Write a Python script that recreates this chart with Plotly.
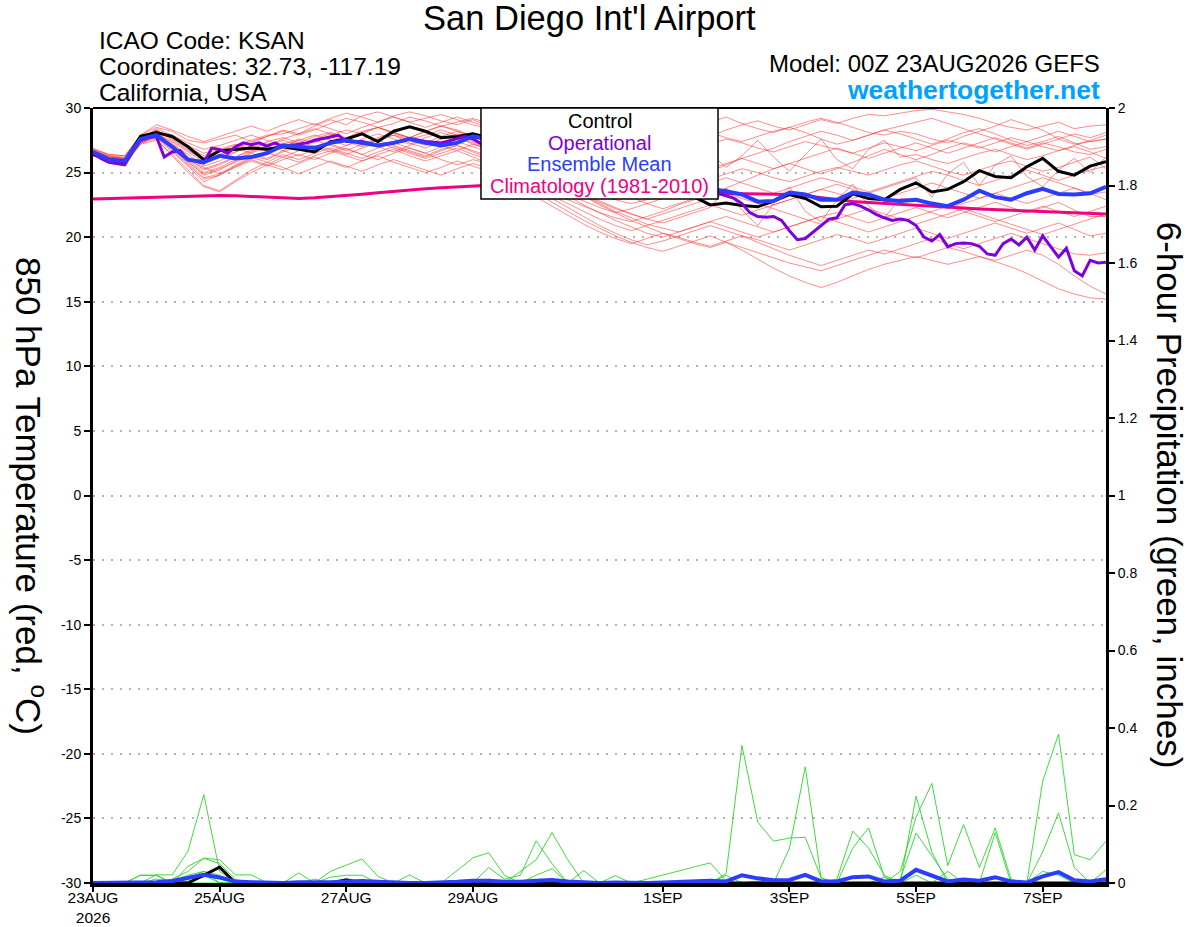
import pandas as pd
import plotly.graph_objects as go

START = "2026-08-23 00:00"

# ---- 850 hPa temperature (deg C), 6-hourly from 23AUG 00Z to 8SEP 00Z ----
control_t = [
    26.4, 26.0, 25.85, 27.8, 28.1, 27.8, 27.0, 26.0, 26.7, 26.8, 26.9, 26.8, 27.0,
    26.8, 26.6, 27.4, 27.6, 28.0, 27.4, 28.2, 28.55, 28.2, 27.7, 27.8, 28.0, 27.7,
    27.4, 27.0, 26.6, 26.2, 25.8, 25.4, 25.0, 24.6, 24.2, 23.9, 23.6, 23.4, 23.1,
    22.5, 22.65, 22.45, 22.35, 22.8, 23.3, 23.0, 22.35, 22.4, 23.35, 23.0, 22.9, 23.7,
    24.2, 23.5, 23.7, 24.3, 25.15, 24.7, 24.6, 25.45, 26.1, 25.1, 24.8, 25.5, 25.85,
]
mean_t = [
    26.6, 26.0, 25.9, 27.6, 27.9, 27.0, 26.0, 25.8, 26.3, 26.1, 26.2, 26.5, 27.1,
    27.0, 26.9, 27.3, 27.5, 27.3, 27.1, 27.3, 27.6, 27.3, 27.1, 27.3, 27.8, 27.6,
    27.4, 27.1, 26.8, 26.5, 26.2, 25.9, 25.6, 25.3, 25.0, 24.7, 24.4, 24.1, 23.9,
    23.75, 23.55, 23.3, 22.75, 22.8, 23.45, 23.3, 22.9, 22.9, 23.45, 23.3, 22.9, 22.8,
    22.9, 22.6, 22.4, 22.9, 23.6, 23.1, 22.9, 23.4, 23.75, 23.35, 23.3, 23.4, 23.9,
]
clim_t = [
    22.95, 22.98, 23.02, 23.06, 23.1, 23.14, 23.18, 23.2, 23.22, 23.2, 23.15, 23.08, 23.02,
    23.0, 23.05, 23.13, 23.22, 23.32, 23.43, 23.55, 23.65, 23.74, 23.82, 23.9, 23.97, 24.02,
    24.06, 24.08, 24.08, 24.06, 24.02, 23.97, 23.9, 23.83, 23.76, 23.68, 23.6, 23.53, 23.47,
    23.42, 23.39, 23.36, 23.34, 23.32, 23.3, 23.2, 23.05, 22.9, 22.77, 22.68, 22.6, 22.52,
    22.44, 22.38, 22.31, 22.25, 22.18, 22.13, 22.08, 22.04, 22.0, 21.96, 21.92, 21.86, 21.8,
]
# operational run is 3-hourly
oper_t = [
    26.5, 26.1, 25.8, 25.7, 25.6, 26.6, 27.5, 27.7,
    27.8, 26.2, 26.6, 26.7, 26.0, 25.9, 25.75, 26.9,
    26.8, 26.5, 27.0, 27.3, 27.15, 27.3, 27.05, 27.3,
    27.0, 27.1, 27.2, 27.3, 27.5, 27.6, 27.75, 27.9,
    27.4, 27.4, 27.4, 27.25, 27.1, 27.2, 27.3, 27.45,
    27.65, 27.5, 27.4, 27.35, 27.3, 27.45, 27.65, 27.8,
    27.6, 27.25, 27.1, 26.9, 26.7, 26.5, 26.3, 26.1,
    25.9, 25.7, 25.5, 25.3, 25.1, 24.9, 24.8, 24.7,
    24.6, 24.5, 24.4, 24.3, 24.2, 24.1, 24.0, 23.95,
    23.9, 23.85, 23.8, 23.75, 23.7, 23.7, 23.65, 23.4,
    23.2, 23.0, 22.6, 21.9, 21.6, 21.55, 21.6, 21.3,
    20.5, 19.8, 19.9, 20.4, 20.9, 21.4, 21.5, 22.5,
    22.6, 22.4, 22.1, 21.75, 21.5, 21.3, 21.4, 21.3,
    20.9, 20.0, 19.7, 20.2, 19.25, 19.5, 19.55, 19.5,
    19.3, 18.7, 18.6, 19.5, 19.85, 19.4, 20.0, 19.0,
    20.1, 19.3, 18.45, 19.15, 17.4, 17.0, 18.2, 18.0,
    18.05,
]

# ensemble members (temperature)
mem01 = [26.8, 26.3, 26.2, 27.9, 28.5, 28.2, 27.5, 27.3, 27.6, 27.9, 27.4, 27.8, 28.3,
         28.0, 28.6, 29.1, 28.7, 29.4, 29.7, 29.3, 28.9, 29.2, 29.5, 29.1, 28.7, 28.4,
         28.9, 29.2, 28.6, 28.1, 28.5, 28.9, 28.7, 28.3, 28.0, 28.4, 28.8, 28.5, 28.2,
         27.8, 28.3, 28.7, 29.0, 28.6, 28.3, 28.7, 29.1, 28.8, 29.2, 29.5, 29.4, 29.6,
         29.8, 29.9, 29.7, 29.5, 29.2, 28.8, 28.5, 28.3, 28.6, 28.9, 28.4, 28.6, 28.7]
mem02 = [26.6, 26.2, 26.1, 27.6, 28.3, 27.6, 26.8, 25.9, 26.3, 26.9, 27.3, 27.8, 28.2,
         27.9, 28.3, 28.8, 29.2, 28.9, 28.5, 28.8, 29.3, 29.0, 28.6, 28.9, 29.2, 28.8,
         28.3, 27.8, 28.2, 28.6, 28.9, 28.6, 28.2, 27.9, 28.3, 28.7, 29.0, 28.8, 28.6,
         28.9, 29.3, 28.8, 28.4, 28.1, 28.5, 28.9, 29.2, 28.9, 28.5, 28.1, 27.9, 28.2,
         28.0, 27.6, 27.3, 27.8, 28.2, 28.6, 29.1, 28.7, 28.3, 27.6, 27.2, 27.4, 27.6]
mem03 = [26.5, 26.0, 25.8, 27.5, 28.0, 27.2, 26.4, 25.5, 25.9, 26.6, 27.0, 26.6, 27.2,
         27.6, 27.3, 27.9, 28.3, 28.0, 28.5, 28.1, 27.7, 28.2, 28.6, 28.3, 27.8, 27.4,
         27.0, 26.5, 26.1, 25.7, 25.9, 26.4, 26.8, 27.2, 27.6, 27.9, 28.3, 28.6, 28.4,
         28.1, 27.7, 27.4, 27.8, 28.2, 28.5, 28.1, 27.6, 27.2, 27.5, 27.9, 28.3, 28.0,
         27.6, 27.2, 27.6, 28.1, 28.4, 28.0, 27.5, 27.1, 27.4, 27.8, 27.3, 26.8, 27.0]
mem04 = [26.9, 26.4, 26.3, 27.7, 28.2, 27.8, 27.1, 26.5, 26.8, 27.2, 26.8, 27.4, 27.7,
         27.3, 27.8, 28.1, 27.7, 28.2, 28.5, 28.0, 27.6, 27.9, 28.3, 27.9, 27.4, 27.0,
         26.6, 26.2, 25.8, 25.5, 25.2, 25.0, 24.8, 25.1, 25.4, 25.8, 26.1, 26.5, 26.8,
         27.2, 27.6, 27.3, 26.9, 26.6, 27.0, 27.4, 27.1, 26.8, 26.5, 26.9, 27.3, 27.0,
         26.7, 27.1, 27.5, 27.2, 26.9, 27.3, 27.7, 27.4, 27.0, 26.7, 27.1, 27.5, 27.9]
mem05 = [26.4, 25.9, 25.7, 27.3, 27.8, 26.9, 25.8, 24.9, 25.3, 25.8, 26.3, 26.0, 26.6,
         27.0, 26.6, 27.2, 27.6, 27.1, 27.6, 27.9, 27.3, 26.9, 27.4, 27.7, 27.2, 26.8,
         26.3, 25.9, 25.4, 25.0, 24.6, 24.3, 24.7, 25.1, 25.5, 25.9, 26.3, 26.6, 26.9,
         26.5, 25.4, 26.3, 27.5, 26.2, 25.1, 26.4, 27.6, 26.0, 25.3, 26.8, 27.5, 26.2,
         26.4, 26.0, 25.7, 26.1, 26.5, 26.8, 26.4, 26.0, 26.3, 26.7, 27.0, 26.6, 26.1]
mem06 = [26.3, 25.8, 25.6, 27.2, 27.9, 27.0, 26.1, 25.2, 25.6, 26.2, 26.7, 27.0, 26.7,
         27.2, 27.5, 27.1, 26.7, 27.2, 27.5, 27.1, 26.7, 26.3, 26.8, 27.1, 26.7, 26.3,
         25.9, 25.4, 25.0, 24.5, 24.1, 23.6, 23.2, 22.9, 22.6, 22.9, 23.3, 23.7, 24.1,
         24.5, 24.9, 25.3, 25.0, 24.6, 24.3, 24.7, 25.1, 25.4, 25.1, 24.8, 25.2, 25.6,
         25.9, 25.5, 25.1, 24.8, 25.2, 25.6, 25.9, 25.5, 25.1, 25.4, 25.8, 26.2, 25.3]
mem07 = [26.6, 26.1, 26.0, 27.4, 27.7, 26.6, 25.5, 24.3, 24.8, 25.5, 26.1, 26.5, 26.2,
         26.7, 27.1, 26.8, 26.4, 26.9, 27.3, 26.9, 26.5, 26.1, 26.5, 26.9, 26.4, 26.0,
         25.5, 25.0, 24.4, 23.8, 23.3, 22.8, 22.3, 21.9, 22.2, 22.6, 23.0, 23.4, 23.8,
         24.2, 24.6, 24.2, 23.8, 23.4, 23.8, 24.2, 24.6, 24.3, 23.9, 23.5, 23.9, 24.3,
         24.7, 25.1, 24.8, 24.4, 24.0, 24.4, 24.8, 25.2, 24.8, 24.4, 24.8, 25.2, 25.5]
mem08 = [26.7, 26.2, 26.0, 27.6, 28.1, 27.3, 26.2, 25.4, 24.9, 25.4, 25.9, 25.5, 26.0,
         26.4, 26.0, 26.5, 26.9, 26.4, 26.0, 26.5, 26.9, 26.5, 26.0, 25.6, 26.0, 25.7,
         25.2, 24.6, 24.0, 23.4, 22.9, 22.4, 21.9, 21.5, 21.2, 21.6, 22.0, 22.5, 22.9,
         23.3, 23.7, 23.3, 22.9, 22.5, 22.9, 23.3, 23.7, 24.1, 23.7, 23.3, 23.0, 23.4,
         23.8, 24.2, 23.8, 23.4, 23.0, 23.4, 23.8, 24.2, 24.6, 24.2, 23.8, 23.3, 23.5]
mem09 = [26.5, 26.0, 25.9, 27.4, 28.0, 27.4, 26.6, 25.8, 26.2, 26.6, 27.1, 26.7, 27.3,
         26.9, 27.4, 27.8, 27.4, 27.0, 27.5, 27.9, 27.5, 27.1, 27.6, 28.0, 27.6, 27.1,
         26.5, 25.8, 25.2, 24.5, 23.9, 23.3, 22.7, 22.2, 21.8, 21.4, 21.1, 21.5, 21.9,
         22.3, 23.8, 22.1, 20.9, 22.6, 23.9, 22.0, 21.2, 22.9, 24.1, 22.4, 21.5, 23.0,
         23.0, 22.6, 22.2, 22.6, 23.0, 23.4, 23.0, 22.6, 23.0, 23.4, 23.8, 23.4, 22.9]
mem10 = [26.6, 26.2, 26.1, 27.5, 28.4, 27.9, 27.3, 26.8, 27.1, 27.5, 27.9, 27.5, 27.0,
         27.5, 27.9, 27.5, 27.1, 27.6, 28.0, 27.6, 27.2, 27.7, 28.1, 27.7, 27.3, 26.9,
         26.2, 25.6, 25.0, 24.4, 23.8, 23.2, 22.6, 22.0, 21.5, 21.0, 20.7, 20.4, 20.8,
         21.2, 21.6, 21.2, 20.8, 20.4, 20.8, 21.2, 21.6, 21.9, 21.5, 21.1, 21.5, 21.9,
         22.3, 21.9, 21.5, 21.9, 22.3, 22.7, 22.3, 21.9, 22.3, 22.7, 22.1, 21.6, 21.6]
mem11 = [26.4, 25.9, 25.8, 27.3, 27.6, 26.3, 25.0, 23.9, 23.5, 24.3, 25.0, 25.6, 25.2,
         25.7, 26.2, 25.8, 25.4, 25.9, 26.3, 25.8, 25.4, 25.0, 25.4, 25.9, 25.5, 25.1,
         24.5, 23.8, 23.1, 22.4, 21.7, 21.0, 20.4, 19.9, 19.5, 19.9, 20.3, 20.0, 19.6,
         19.3, 19.7, 20.1, 19.8, 19.4, 19.0, 19.4, 19.8, 20.2, 19.9, 19.5, 19.9, 20.3,
         20.7, 20.3, 19.9, 20.3, 20.7, 21.1, 20.7, 20.3, 20.7, 21.1, 20.6, 20.1, 20.3]
mem12 = [26.5, 26.1, 26.0, 27.5, 27.9, 26.8, 25.7, 24.6, 24.9, 25.6, 26.2, 25.8, 26.4,
         26.0, 26.5, 26.9, 26.5, 26.1, 26.6, 27.0, 26.6, 26.2, 26.7, 27.1, 26.6, 26.1,
         25.4, 24.6, 23.8, 23.0, 22.3, 21.6, 20.9, 20.3, 19.8, 19.4, 19.7, 20.1, 20.5,
         20.9, 20.5, 20.1, 19.6, 19.1, 18.6, 18.2, 17.8, 18.2, 18.6, 19.0, 18.7, 19.1,
         19.5, 19.9, 19.5, 19.1, 19.5, 19.9, 20.3, 19.9, 19.5, 19.1, 18.7, 18.6, 18.8]
mem13 = [26.7, 26.3, 26.1, 27.7, 28.3, 27.5, 26.7, 26.0, 26.4, 26.9, 26.5, 27.0, 27.5,
         27.1, 27.6, 28.0, 27.6, 27.2, 27.7, 28.1, 27.7, 27.3, 27.8, 28.2, 27.8, 27.3,
         26.7, 26.0, 25.3, 24.6, 23.9, 23.2, 22.5, 21.9, 21.3, 20.8, 20.3, 19.9, 19.5,
         19.2, 19.6, 19.2, 18.8, 18.4, 18.0, 17.7, 17.4, 17.8, 18.2, 18.6, 19.0, 18.7,
         18.4, 18.8, 19.2, 18.9, 18.5, 18.2, 18.6, 19.0, 18.6, 17.9, 17.0, 16.2, 15.6]
mem14 = [26.4, 26.0, 25.8, 27.4, 27.8, 26.7, 25.6, 24.5, 24.8, 25.5, 26.0, 25.6, 26.2,
         25.8, 26.3, 26.7, 26.3, 25.9, 26.4, 26.8, 26.3, 25.9, 26.3, 26.7, 26.2, 25.7,
         25.0, 24.3, 23.5, 22.7, 22.0, 21.3, 20.7, 20.1, 19.6, 19.2, 18.9, 19.3, 19.7,
         20.1, 19.6, 19.0, 18.3, 17.6, 17.0, 16.5, 16.1, 16.5, 17.0, 17.5, 17.9, 18.2,
         18.5, 18.2, 17.9, 18.2, 18.5, 18.1, 17.7, 17.2, 16.6, 16.0, 15.6, 15.3, 15.2]
mem15 = [26.8, 26.4, 26.3, 27.9, 28.7, 28.3, 27.8, 27.4, 27.8, 28.2, 28.6, 28.2, 28.7,
         29.1, 28.7, 29.2, 29.6, 29.3, 28.9, 29.4, 29.7, 29.4, 29.0, 28.7, 29.1, 28.6,
         28.0, 27.4, 26.8, 26.2, 25.7, 25.2, 24.8, 24.4, 24.0, 23.7, 23.9, 24.3, 24.7,
         25.1, 25.6, 26.1, 26.5, 26.9, 27.4, 27.8, 28.2, 27.9, 27.5, 27.9, 28.3, 28.6,
         28.9, 29.2, 28.8, 28.4, 28.0, 27.6, 27.2, 26.8, 27.2, 27.6, 28.0, 27.7, 28.1]
mem16 = [26.6, 26.2, 26.0, 27.6, 28.1, 27.1, 26.0, 25.0, 25.4, 26.0, 26.6, 27.1, 27.6,
         28.0, 28.4, 28.0, 27.6, 28.1, 28.5, 28.1, 27.7, 28.2, 28.6, 28.2, 27.8, 27.5,
         27.1, 26.6, 26.1, 25.6, 25.1, 24.6, 24.1, 23.6, 23.1, 22.6, 22.2, 22.6, 23.0,
         23.4, 23.8, 24.3, 24.8, 25.3, 25.7, 25.3, 24.9, 25.3, 25.8, 26.3, 26.8, 26.4,
         26.0, 26.4, 26.9, 27.3, 27.0, 26.6, 27.0, 27.4, 27.8, 28.2, 27.8, 27.4, 27.6]
mem17 = [26.3, 25.9, 25.7, 27.2, 27.5, 26.4, 25.2, 24.0, 23.6, 24.4, 25.2, 25.8, 25.4,
         24.9, 25.4, 25.9, 25.5, 25.1, 25.6, 26.0, 25.6, 25.2, 24.8, 25.3, 25.7, 25.3,
         24.9, 24.4, 23.8, 23.2, 22.6, 22.0, 21.4, 20.9, 20.5, 20.9, 21.3, 21.7, 22.1,
         22.5, 22.1, 21.7, 22.1, 22.5, 22.9, 23.3, 23.7, 23.4, 23.0, 23.4, 23.8, 24.2,
         24.6, 23.1, 24.9, 25.8, 24.0, 25.6, 26.3, 24.7, 23.9, 25.2, 26.1, 25.0, 26.2]
mem18 = [26.5, 26.1, 25.9, 27.4, 27.9, 27.0, 26.1, 25.3, 25.7, 26.2, 26.8, 27.3, 27.0,
         27.5, 27.0, 26.6, 27.1, 27.5, 27.0, 26.6, 27.1, 27.5, 27.1, 26.7, 27.2, 26.8,
         26.3, 25.7, 25.1, 24.5, 23.9, 23.3, 22.8, 22.3, 21.8, 21.4, 21.8, 22.2, 22.6,
         23.0, 23.4, 23.0, 22.6, 22.2, 21.8, 21.4, 21.0, 21.4, 21.8, 22.2, 21.8, 21.4,
         21.0, 21.4, 21.8, 22.2, 21.8, 21.4, 21.0, 20.6, 20.2, 20.6, 21.0, 21.4, 21.8]
mem19 = [26.7, 26.2, 26.1, 27.6, 28.2, 27.7, 27.0, 26.3, 26.7, 27.1, 27.5, 27.9, 28.0,
         28.4, 28.8, 28.4, 28.0, 28.5, 28.9, 29.3, 28.9, 28.5, 28.9, 29.3, 28.9, 28.5,
         28.1, 27.7, 27.3, 26.9, 26.5, 26.1, 25.7, 25.3, 24.9, 24.5, 24.1, 24.5, 24.9,
         25.3, 25.7, 26.1, 25.7, 25.3, 25.7, 26.1, 26.5, 26.9, 26.5, 26.1, 26.5, 26.9,
         27.3, 26.9, 26.5, 26.9, 27.3, 27.7, 27.3, 26.9, 27.3, 27.0, 26.6, 26.4, 26.8]
mem20 = [26.6, 26.1, 25.9, 27.5, 28.0, 26.9, 25.9, 24.8, 25.2, 25.9, 26.5, 26.1, 26.7,
         26.3, 26.8, 27.2, 26.8, 26.4, 26.9, 27.3, 26.9, 26.5, 27.0, 27.4, 27.0, 26.6,
         26.0, 25.3, 24.6, 23.9, 23.2, 22.5, 21.9, 21.3, 20.8, 20.3, 20.0, 20.4, 20.8,
         21.2, 20.8, 20.4, 20.0, 20.4, 20.8, 21.2, 21.6, 21.2, 20.8, 20.4, 20.8, 21.2,
         21.6, 22.0, 22.4, 22.0, 21.6, 21.2, 21.6, 22.0, 22.4, 22.0, 21.6, 22.0, 22.4]
members_t = [mem01, mem02, mem03, mem04, mem05, mem06, mem07, mem08, mem09, mem10,
             mem11, mem12, mem13, mem14, mem15, mem16, mem17, mem18, mem19, mem20]

# ---- 6-hour precipitation (inches), 6-hourly ----
control_p = [0, 0, 0, 0, 0, 0, 0, 0.02, 0.041, 0, 0, 0, 0,
             0, 0, 0, 0.008, 0, 0, 0, 0, 0, 0, 0, 0, 0,
             0, 0, 0, 0, 0, 0, 0, 0, 0, 0, 0, 0, 0,
             0, 0, 0, 0, 0, 0, 0, 0, 0, 0, 0, 0, 0,
             0, 0, 0, 0, 0, 0, 0, 0, 0, 0, 0, 0, 0]
mean_p = [0, 0, 0, 0, 0.002, 0.005, 0.012, 0.021, 0.014, 0.004, 0.002, 0, 0,
          0.002, 0.001, 0.002, 0.004, 0.005, 0.003, 0.001, 0, 0, 0.001, 0.003, 0.006, 0.006,
          0.003, 0.003, 0.006, 0.008, 0.004, 0.002, 0, 0.001, 0, 0, 0.001, 0.002, 0.003,
          0.006, 0.004, 0.02, 0.012, 0.007, 0.008, 0.021, 0.004, 0.004, 0.015, 0.017, 0.004, 0.006,
          0.034, 0.02, 0.004, 0.009, 0.006, 0.015, 0.004, 0.001, 0.017, 0.028, 0.007, 0.004, 0.01]
pm1 = [0, 0, 0, 0, 0.021, 0.021, 0.082, 0.228, 0.03, 0, 0, 0, 0,
       0, 0, 0, 0, 0, 0, 0, 0, 0, 0, 0, 0, 0,
       0, 0, 0, 0, 0, 0, 0, 0, 0, 0, 0, 0, 0,
       0, 0.024, 0.355, 0.157, 0.108, 0.116, 0.118, 0.013, 0, 0, 0, 0, 0,
       0, 0, 0, 0, 0, 0, 0, 0, 0, 0, 0, 0, 0]
pm2 = [0, 0, 0, 0.02, 0.02, 0, 0.043, 0.064, 0.06, 0.021, 0.021, 0, 0,
       0, 0, 0, 0, 0, 0, 0, 0, 0, 0, 0.032, 0.065, 0.078,
       0.02, 0, 0, 0, 0, 0, 0, 0, 0, 0, 0, 0, 0,
       0, 0, 0, 0, 0, 0.09, 0.30, 0.013, 0, 0, 0, 0, 0,
       0, 0, 0, 0, 0, 0, 0, 0, 0, 0, 0, 0, 0]
pm3 = [0, 0, 0, 0, 0, 0.01, 0.03, 0.064, 0.05, 0.01, 0, 0, 0,
       0.026, 0, 0.03, 0.045, 0.062, 0.017, 0, 0.021, 0, 0, 0, 0, 0.04,
       0.01, 0.02, 0.109, 0.05, 0, 0, 0, 0, 0, 0, 0, 0, 0,
       0, 0, 0, 0, 0, 0, 0, 0, 0.01, 0.134, 0.09, 0.02, 0,
       0, 0, 0, 0, 0, 0, 0, 0, 0, 0, 0, 0, 0]
pm4 = [0, 0, 0, 0, 0, 0, 0.01, 0.03, 0.02, 0, 0, 0, 0,
       0, 0.01, 0, 0, 0.008, 0, 0, 0, 0, 0, 0, 0, 0,
       0, 0.03, 0.06, 0.13, 0.06, 0, 0, 0, 0, 0, 0, 0, 0,
       0, 0, 0, 0, 0, 0, 0, 0, 0, 0.09, 0.142, 0.015, 0,
       0.224, 0.08, 0, 0, 0, 0, 0, 0, 0, 0, 0, 0, 0]
pm5 = [0, 0, 0, 0, 0.01, 0.005, 0.02, 0.03, 0, 0, 0, 0, 0,
       0, 0, 0, 0, 0, 0, 0, 0, 0, 0, 0, 0, 0,
       0, 0, 0, 0, 0, 0.032, 0, 0.019, 0, 0.01, 0.02, 0.03, 0.04,
       0.052, 0.005, 0, 0, 0, 0, 0, 0, 0, 0, 0, 0, 0.03,
       0.17, 0.257, 0.045, 0.151, 0.04, 0.142, 0.01, 0, 0, 0, 0, 0, 0]
pm6 = [0, 0, 0, 0, 0, 0, 0, 0, 0, 0, 0, 0, 0,
       0, 0, 0, 0, 0, 0, 0, 0, 0, 0, 0, 0, 0,
       0, 0, 0, 0, 0, 0, 0, 0, 0, 0, 0, 0, 0,
       0, 0, 0, 0, 0, 0, 0, 0, 0, 0, 0, 0, 0.01,
       0.129, 0.07, 0.01, 0, 0, 0, 0, 0, 0.08, 0.181, 0.04, 0, 0.034]
pm7 = [0, 0, 0, 0.02, 0.02, 0, 0, 0.02, 0, 0, 0, 0, 0,
       0, 0, 0, 0, 0, 0, 0, 0, 0, 0, 0, 0, 0,
       0, 0, 0, 0, 0, 0, 0, 0, 0, 0, 0, 0, 0,
       0, 0, 0, 0, 0, 0, 0, 0, 0, 0, 0, 0, 0,
       0, 0, 0, 0, 0, 0, 0, 0, 0.263, 0.384, 0.073, 0.06, 0.108]
pm8 = [0, 0, 0, 0, 0, 0, 0.005, 0.015, 0.04, 0, 0, 0, 0,
       0, 0, 0.015, 0.02, 0.02, 0, 0.005, 0, 0, 0, 0, 0, 0.01,
       0, 0, 0.02, 0.037, 0, 0, 0, 0, 0, 0, 0, 0, 0,
       0, 0.02, 0, 0.005, 0, 0, 0, 0, 0, 0, 0, 0.015, 0,
       0.02, 0, 0.03, 0, 0, 0.13, 0, 0, 0.03, 0.02, 0, 0, 0]
members_p = [pm1, pm2, pm3, pm4, pm5, pm6, pm7, pm8]

# ---- axis ticks ----
date_ticks = ["2026-08-23", "2026-08-25", "2026-08-27", "2026-08-29",
              "2026-09-01", "2026-09-03", "2026-09-05", "2026-09-07"]
date_labels = ["23AUG<br>2026", "25AUG", "27AUG", "29AUG", "1SEP", "3SEP", "5SEP", "7SEP"]
temp_ticks = [-30, -25, -20, -15, -10, -5, 0, 5, 10, 15, 20, 25, 30]
temp_labels = ["-30", "-25", "-20", "-15", "-10", "-5", "0", "5", "10", "15", "20", "25", "30"]
prcp_ticks = [0, 0.2, 0.4, 0.6, 0.8, 1, 1.2, 1.4, 1.6, 1.8, 2]
prcp_labels = ["0", "0.2", "0.4", "0.6", "0.8", "1", "1.2", "1.4", "1.6", "1.8", "2"]

legend_items = ["Control", "Operational", "Ensemble Mean", "Climatology (1981-2010)"]

RED = "rgba(255,45,45,0.55)"
GREEN = "rgba(40,215,40,0.9)"
PURPLE = "#8000dc"
BLUE = "#2a3cff"
PINK = "#f00082"
FONT = "Liberation Sans"

t6 = pd.date_range(START, periods=len(control_t), freq="6h")
t3 = pd.date_range(START, periods=len(oper_t), freq="3h")

fig = go.Figure()

for m in members_t:
    fig.add_trace(go.Scatter(x=t6, y=m, mode="lines", line=dict(color=RED, width=1),
                             hoverinfo="skip"))
fig.add_trace(go.Scatter(x=t6, y=clim_t, mode="lines", line=dict(color=PINK, width=3)))
fig.add_trace(go.Scatter(x=t6, y=control_t, mode="lines", line=dict(color="black", width=3)))
fig.add_trace(go.Scatter(x=t3, y=oper_t, mode="lines", line=dict(color=PURPLE, width=3)))
fig.add_trace(go.Scatter(x=t6, y=mean_t, mode="lines", line=dict(color=BLUE, width=4)))

for m in members_p:
    fig.add_trace(go.Scatter(x=t6, y=m, mode="lines", line=dict(color=GREEN, width=1),
                             yaxis="y2", hoverinfo="skip"))
fig.add_trace(go.Scatter(x=t6, y=control_p, mode="lines", line=dict(color="black", width=3),
                         yaxis="y2"))
fig.add_trace(go.Scatter(x=t6, y=mean_p, mode="lines", line=dict(color=BLUE, width=4),
                         yaxis="y2"))

fig.update_layout(
    width=1200, height=927,
    margin=dict(l=93, r=94, t=108, b=44),
    plot_bgcolor="white", paper_bgcolor="white",
    showlegend=False,
    font=dict(family=FONT, color="black"),
    xaxis=dict(type="date", range=["2026-08-23 00:00", "2026-09-08 00:00"],
               tickvals=date_ticks, ticktext=date_labels,
               ticks="outside", ticklen=5, tickwidth=1.5, tickcolor="black",
               ticklabelstandoff=-8,
               showline=True, linewidth=4, linecolor="black",
               showgrid=False, zeroline=False, automargin=False,
               tickfont=dict(size=15.5, family=FONT)),
    yaxis=dict(range=[-30, 30], tickvals=temp_ticks, ticktext=temp_labels,
               ticks="outside", ticklen=6, tickwidth=1.5, tickcolor="black",
               showline=True, linewidth=3, linecolor="black",
               showgrid=True, gridcolor="#b4b4b4", gridwidth=1.5, griddash="2px,7px",
               zeroline=False, automargin=False,
               tickfont=dict(size=14, family=FONT)),
    yaxis2=dict(range=[0, 2], overlaying="y", side="right", anchor="x",
                tickvals=prcp_ticks, ticktext=prcp_labels,
                ticks="outside", ticklen=6, tickwidth=1.5, tickcolor="black",
                showline=True, linewidth=3, linecolor="black",
                showgrid=False, zeroline=False, automargin=False,
                tickfont=dict(size=14, family=FONT)),
)

# top frame line and legend box
fig.add_shape(type="line", xref="paper", yref="paper", x0=0, x1=1, y0=1, y1=1,
              line=dict(color="black", width=2), layer="above")
fig.add_shape(type="rect", xref="paper", yref="paper", x0=0.383, x1=0.617, y0=0.8826, y1=1.0,
              fillcolor="white", line=dict(color="black", width=1.5), layer="above")

legend_colors = ["black", PURPLE, BLUE, PINK]
legend_y = [0.9826, 0.9549, 0.9271, 0.8994]
for txt, col, yy in zip(legend_items, legend_colors, legend_y):
    fig.add_annotation(text=txt, xref="paper", yref="paper", x=0.5, y=yy,
                       xanchor="center", yanchor="middle", showarrow=False,
                       font=dict(size=20, color=col, family=FONT))

# header texts
fig.add_annotation(text="San Diego Int'l Airport", xref="paper", yref="paper",
                   x=0.4906, y=1.1155, xanchor="center", yanchor="middle", showarrow=False,
                   borderpad=0, font=dict(size=34.5, family=FONT))
for txt, yy in zip(["ICAO Code: KSAN", "Coordinates: 32.73, -117.19", "California, USA"],
                   [1.0865, 1.053, 1.0195]):
    fig.add_annotation(text=txt, xref="paper", yref="paper", x=0.0049, y=yy,
                       xanchor="left", yanchor="middle", showarrow=False,
                       borderpad=0, font=dict(size=24.5, family=FONT))
fig.add_annotation(text="Model: 00Z 23AUG2026 GEFS", xref="paper", yref="paper",
                   x=0.995, y=1.057, xanchor="right", yanchor="middle", showarrow=False,
                   borderpad=0, font=dict(size=24, family=FONT))
fig.add_annotation(text="<b>weathertogether.net</b>", xref="paper", yref="paper",
                   x=0.995, y=1.0235, xanchor="right", yanchor="middle", showarrow=False,
                   borderpad=0, font=dict(size=26.5, family=FONT, color="#00a2ff"))

# axis titles (both read top to bottom)
fig.add_annotation(text="850 hPa Temperature (red, <sup>o</sup>C)", xref="paper", yref="paper",
                   x=-0.0607, y=0.5, xanchor="center", yanchor="middle", textangle=90,
                   showarrow=False, font=dict(size=35, family=FONT))
fig.add_annotation(text="6-hour Precipitation (green, inches)", xref="paper", yref="paper",
                   x=1.063, y=0.5, xanchor="center", yanchor="middle", textangle=90,
                   showarrow=False, font=dict(size=35, family=FONT))

# page has a default body margin; remove it so the figure sits at the window corner
fig.write_html("out.html", config={"displayModeBar": False},
               post_script="document.body.style.margin='0px';")
